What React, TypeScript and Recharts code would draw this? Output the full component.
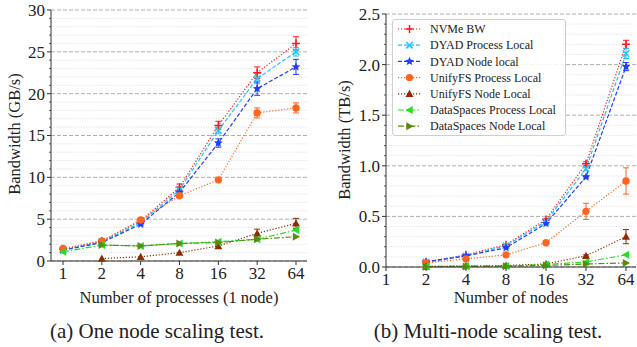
import { LineChart, Line, XAxis, YAxis, CartesianGrid, ErrorBar } from 'recharts';

// x categories
const PROCS = [1, 2, 4, 8, 16, 32, 64];
const NODES = [2, 4, 8, 16, 32, 64];
const X_TICKS = [1, 2, 4, 8, 16, 32, 64];

// (a) one node scaling, GB/s
const A_NVME = [1.4, 2.4, 4.8, 8.8, 16.2, 22.5, 26.0];
const A_NVME_ERR = [0.1, 0.1, 0.2, 0.4, 0.5, 0.7, 0.8];
const A_DYAD_PROC = [1.3, 2.3, 4.6, 8.5, 15.6, 21.8, 25.0];
const A_DYAD_PROC_ERR = [0, 0, 0.1, 0.3, 0.4, 0.6, 0.5];
const A_DYAD_NODE = [1.3, 2.2, 4.4, 8.2, 14.1, 20.6, 23.2];
const A_DYAD_NODE_ERR = [0, 0, 0.1, 0.3, 0.5, 0.8, 0.9];
const A_UNIFY_PROC = [1.5, 2.4, 4.9, 7.8, 9.7, 17.7, 18.3];
const A_UNIFY_PROC_ERR = [0, 0, 0, 0, 0, 0.6, 0.6];
const A_UNIFY_NODE = [null, 0.3, 0.5, 1.0, 1.8, 3.3, 4.5];
const A_UNIFY_NODE_ERR = [0, 0, 0, 0, 0, 0.5, 0.6];
const A_DS_PROC = [1.1, 1.9, 1.8, 2.1, 2.3, 2.6, 3.7];
const A_DS_PROC_ERR = [0, 0, 0, 0, 0, 0, 0];
const A_DS_NODE = [null, 1.9, 1.8, 2.1, 2.2, 2.6, 2.9];
const A_DS_NODE_ERR = [0, 0, 0, 0, 0, 0, 0];

// (b) multi-node scaling, TB/s
const B_NVME = [0.05, 0.12, 0.22, 0.47, 1.02, 2.2];
const B_NVME_ERR = [0, 0, 0, 0.01, 0.02, 0.04];
const B_DYAD_PROC = [0.05, 0.11, 0.21, 0.45, 0.97, 2.11];
const B_DYAD_PROC_ERR = [0, 0, 0, 0, 0.02, 0.05];
const B_DYAD_NODE = [0.05, 0.11, 0.19, 0.43, 0.89, 1.98];
const B_DYAD_NODE_ERR = [0, 0, 0, 0, 0.01, 0.04];
const B_UNIFY_PROC = [0.04, 0.08, 0.12, 0.24, 0.55, 0.85];
const B_UNIFY_PROC_ERR = [0, 0, 0, 0.01, 0.08, 0.13];
const B_UNIFY_NODE = [0.005, 0.01, 0.015, 0.03, 0.11, 0.3];
const B_UNIFY_NODE_ERR = [0, 0, 0, 0, 0.01, 0.07];
const B_DS_PROC = [0.005, 0.01, 0.01, 0.025, 0.05, 0.12];
const B_DS_PROC_ERR = [0, 0, 0, 0, 0, 0];
const B_DS_NODE = [0.002, 0.005, 0.008, 0.015, 0.03, 0.04];
const B_DS_NODE_ERR = [0, 0, 0, 0, 0, 0];

const SERIES = [
  { key: 'nvme', name: 'NVMe BW', color: '#ff1a1a', dash: '1.2 1.8', shape: 'plus' },
  { key: 'dyadProc', name: 'DYAD Process Local', color: '#1ec6ff', dash: '4 2', shape: 'x' },
  { key: 'dyadNode', name: 'DYAD Node local', color: '#1f3cff', dash: '4 2', shape: 'star' },
  { key: 'unifyProc', name: 'UnifyFS Process Local', color: '#ff6420', dash: '1.2 1.8', shape: 'circle' },
  { key: 'unifyNode', name: 'UnifyFS Node Local', color: '#8c2d04', dash: '1.2 1.8', shape: 'up' },
  { key: 'dsProc', name: 'DataSpaces Process Local', color: '#22e022', dash: '6 2 1.5 2', shape: 'left' },
  { key: 'dsNode', name: 'DataSpaces Node Local', color: '#5a8a12', dash: '6 2 1.5 2', shape: 'right' },
];

const dataA = PROCS.map((n, i) => ({
  n,
  nvme: A_NVME[i], nvmeErr: A_NVME_ERR[i],
  dyadProc: A_DYAD_PROC[i], dyadProcErr: A_DYAD_PROC_ERR[i],
  dyadNode: A_DYAD_NODE[i], dyadNodeErr: A_DYAD_NODE_ERR[i],
  unifyProc: A_UNIFY_PROC[i], unifyProcErr: A_UNIFY_PROC_ERR[i],
  unifyNode: A_UNIFY_NODE[i], unifyNodeErr: A_UNIFY_NODE_ERR[i],
  dsProc: A_DS_PROC[i], dsProcErr: A_DS_PROC_ERR[i],
  dsNode: A_DS_NODE[i], dsNodeErr: A_DS_NODE_ERR[i],
}));

const dataB = NODES.map((n, i) => ({
  n,
  nvme: B_NVME[i], nvmeErr: B_NVME_ERR[i],
  dyadProc: B_DYAD_PROC[i], dyadProcErr: B_DYAD_PROC_ERR[i],
  dyadNode: B_DYAD_NODE[i], dyadNodeErr: B_DYAD_NODE_ERR[i],
  unifyProc: B_UNIFY_PROC[i], unifyProcErr: B_UNIFY_PROC_ERR[i],
  unifyNode: B_UNIFY_NODE[i], unifyNodeErr: B_UNIFY_NODE_ERR[i],
  dsProc: B_DS_PROC[i], dsProcErr: B_DS_PROC_ERR[i],
  dsNode: B_DS_NODE[i], dsNodeErr: B_DS_NODE_ERR[i],
}));

const FONT = 'Liberation Serif, DejaVu Serif, serif';
const AXIS = '#333';

// gridline / tick positions
const A_MINOR = Array.from({ length: 31 }, (_, i) => i);
const A_MAJOR = [0, 5, 10, 15, 20, 25, 30];
const B_MINOR = Array.from({ length: 26 }, (_, i) => i / 10);
const B_MAJOR = [0, 0.5, 1, 1.5, 2, 2.5];

function Marker({ cx, cy, shape, color, s = 4 }: any) {
  if (cx == null || cy == null || isNaN(cx) || isNaN(cy)) return null;
  switch (shape) {
    case 'plus':
      return <path d={`M${cx - s},${cy}H${cx + s}M${cx},${cy - s}V${cy + s}`} stroke={color} strokeWidth={1.5} fill="none" />;
    case 'x': {
      const d = s * 0.8;
      return <path d={`M${cx - d},${cy - d}L${cx + d},${cy + d}M${cx - d},${cy + d}L${cx + d},${cy - d}`} stroke={color} strokeWidth={1.5} fill="none" />;
    }
    case 'star': {
      const pts: string[] = [];
      for (let k = 0; k < 10; k++) {
        const r = k % 2 === 0 ? s + 0.6 : (s + 0.6) * 0.45;
        const a = -Math.PI / 2 + (k * Math.PI) / 5;
        pts.push(`${cx + r * Math.cos(a)},${cy + r * Math.sin(a)}`);
      }
      return <polygon points={pts.join(' ')} fill={color} />;
    }
    case 'circle':
      return <circle cx={cx} cy={cy} r={s - 0.3} fill={color} />;
    case 'up':
      return <polygon points={`${cx},${cy - s} ${cx - s},${cy + s * 0.8} ${cx + s},${cy + s * 0.8}`} fill={color} />;
    case 'left':
      return <polygon points={`${cx - s},${cy} ${cx + s * 0.8},${cy - s} ${cx + s * 0.8},${cy + s}`} fill={color} />;
    case 'right':
      return <polygon points={`${cx + s},${cy} ${cx - s * 0.8},${cy - s} ${cx - s * 0.8},${cy + s}`} fill={color} />;
    default:
      return null;
  }
}

function YTick({ x, y, payload, majors, fmt }: any) {
  const v = payload.value;
  const isMajor = majors.some((m: number) => Math.abs(m - v) < 1e-6);
  return (
    <g>
      <line x1={x - (isMajor ? 4 : 2)} x2={x} y1={y} y2={y} stroke={AXIS} strokeWidth={isMajor ? 1 : 0.8} />
      {isMajor && (
        <text x={x - 6} y={y} dy="0.35em" textAnchor="end" fontSize={17} style={{ fontFamily: FONT }} fill="#222">
          {fmt(v)}
        </text>
      )}
    </g>
  );
}

function Panel({ data, width, height, margin, yWidth, xDomain, yDomain, minor, major, fmt }: any) {
  const minorOnly = minor.filter((v: number) => !major.some((m: number) => Math.abs(m - v) < 1e-6));
  return (
    <LineChart width={width} height={height} data={data} margin={margin} style={{ fontFamily: FONT }}>
      <CartesianGrid vertical={false} horizontalValues={minorOnly} stroke="#d4d4d4" strokeDasharray="1 1.5" strokeWidth={0.8} />
      <CartesianGrid vertical={false} horizontalValues={major} stroke="#b0b0b0" strokeDasharray="4 2" strokeWidth={1} />
      <XAxis
        dataKey="n"
        type="number"
        scale="log"
        domain={xDomain}
        ticks={X_TICKS}
        interval={0}
        height={21}
        stroke={AXIS}
        tickSize={4}
        tickMargin={2}
        tick={{ fontSize: 17, fontFamily: FONT, fill: '#222' }}
      />
      <XAxis xAxisId="top" orientation="top" type="number" domain={[0, 1]} height={0} tick={false} tickLine={false} stroke={AXIS} />
      <YAxis
        type="number"
        domain={yDomain}
        ticks={minor}
        interval={0}
        width={yWidth}
        stroke={AXIS}
        tickLine={false}
        tickSize={0}
        tickMargin={0}
        tick={(p: any) => <YTick {...p} majors={major} fmt={fmt} />}
      />
      <YAxis yAxisId="right" orientation="right" type="number" domain={[0, 1]} width={0} tick={false} tickLine={false} stroke={AXIS} />
      {SERIES.map(s => (
        <Line
          key={s.key}
          dataKey={s.key}
          name={s.name}
          stroke={s.color}
          strokeWidth={1.2}
          strokeDasharray={s.dash}
          isAnimationActive={false}
          connectNulls={false}
          dot={(p: any) => <Marker key={`${s.key}-${p.index}`} cx={p.cx} cy={p.cy} shape={s.shape} color={s.color} />}
          activeDot={false}
        >
          <ErrorBar dataKey={`${s.key}Err`} direction="y" width={3} stroke={s.color} strokeWidth={1} isAnimationActive={false} />
        </Line>
      ))}
    </LineChart>
  );
}

function Legend() {
  return (
    <div style={{
      position: 'absolute', left: 392, top: 19, width: 172, height: 115,
      border: '1px solid #cfcfcf', borderRadius: 3, background: 'rgba(255,255,255,0.85)',
    }}>
      <svg width={172} height={115} style={{ fontFamily: FONT }}>
        {SERIES.map((s, i) => {
          const y = 9 + i * 16.2;
          return (
            <g key={s.key}>
              <line x1={5} x2={28} y1={y} y2={y} stroke={s.color} strokeWidth={1.2} strokeDasharray={s.dash} />
              <Marker cx={16.5} cy={y} shape={s.shape} color={s.color} />
              <text x={37} y={y} dy="0.35em" fontSize={12} fill="#222">{s.name}</text>
            </g>
          );
        })}
      </svg>
    </div>
  );
}

const labelStyle: any = { position: 'absolute', fontFamily: FONT, fontSize: 16.5, color: '#222', whiteSpace: 'nowrap' };

export default function App() {
  return (
    <div style={{ position: 'absolute', left: 0, top: 0, width: 637, height: 347, background: '#fff', overflow: 'hidden', fontFamily: FONT }}>
      <div style={{ position: 'absolute', left: 0, top: 0 }}>
        <Panel
          data={dataA}
          width={320}
          height={282}
          margin={{ top: 10, right: 13, left: 0, bottom: 0 }}
          yWidth={51}
          xDomain={[0.807, 77.9]}
          yDomain={[0, 30]}
          minor={A_MINOR}
          major={A_MAJOR}
          fmt={(v: number) => String(v)}
        />
      </div>
      <div style={{ position: 'absolute', left: 318, top: 0 }}>
        <Panel
          data={dataB}
          width={319}
          height={288}
          margin={{ top: 14, right: 1, left: 0, bottom: 0 }}
          yWidth={68}
          xDomain={[1, 76.1]}
          yDomain={[0, 2.5]}
          minor={B_MINOR}
          major={B_MAJOR}
          fmt={(v: number) => v.toFixed(1)}
        />
      </div>
      <Legend />
      <div style={{ ...labelStyle, left: 15, top: 134, transform: 'translate(-50%, -50%) rotate(-90deg)' }}>Bandwidth (GB/s)</div>
      <div style={{ ...labelStyle, left: 345, top: 140, transform: 'translate(-50%, -50%) rotate(-90deg)' }}>Bandwidth (TB/s)</div>
      <div style={{ ...labelStyle, left: 179, top: 298, transform: 'translate(-50%, -50%)' }}>Number of processes (1 node)</div>
      <div style={{ ...labelStyle, left: 511, top: 298, transform: 'translate(-50%, -50%)' }}>Number of nodes</div>
      <div style={{ ...labelStyle, fontSize: 21, left: 157, top: 331, transform: 'translate(-50%, -50%)' }}>(a) One node scaling test.</div>
      <div style={{ ...labelStyle, fontSize: 21, left: 488, top: 331, transform: 'translate(-50%, -50%)' }}>(b) Multi-node scaling test.</div>
    </div>
  );
}
